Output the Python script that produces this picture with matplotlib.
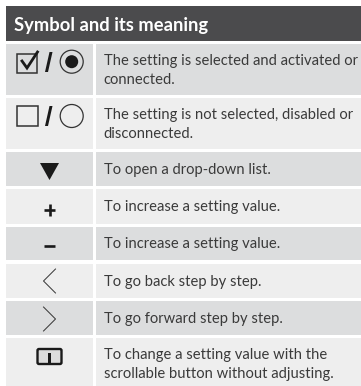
import matplotlib
matplotlib.use("Agg")
import matplotlib.pyplot as plt
from matplotlib.patches import Rectangle, Circle, Polygon, FancyBboxPatch

header = "Symbol and its meaning"
meanings = [
    "The setting is selected and activated or\nconnected.",
    "The setting is not selected, disabled or\ndisconnected.",
    "To open a drop-down list.",
    "To increase a setting value.",
    "To increase a setting value.",
    "To go back step by step.",
    "To go forward step by step.",
    "To change a setting value with the\nscrollable button without adjusting.",
]
symbols = ["checked", "unchecked", "down", "plus", "minus", "back", "forward", "slider"]

row_tops = [44, 98, 152, 189, 227, 264, 301, 338]
row_bottoms = [95, 149, 186, 224, 260, 298, 335, 386]
shades = ["#dcddde", "#eeeeee", "#dcddde", "#eeeeee", "#dcddde", "#eeeeee", "#dcddde", "#eeeeee"]

INK = "#3a3a3a"
FONT = "Lato"

fig = plt.figure(figsize=(3.61, 3.86), dpi=100)
ax = fig.add_axes([0, 0, 1, 1])
ax.set_xlim(0, 361)
ax.set_ylim(386, 0)
ax.axis("off")

ax.add_patch(Rectangle((6, 6), 355, 35, fc="#4b4b4d", ec="none"))
ax.text(14, 25.5, header, color="white", fontsize=13.2, fontweight="bold",
        family=FONT, va="center", ha="left")


def box(x, y, w=20, h=20, lw=1.1):
    ax.add_patch(Rectangle((x, y), w, h, fc="none", ec="#333333", lw=lw))


def slash(x, y):
    ax.add_patch(Polygon([(x + 4.5, y), (x + 7.5, y), (x + 3, y + 20), (x, y + 20)],
                         fc="#1a1a1a", ec="none"))


def draw_symbol(kind, top, bottom):
    if kind == "checked":
        box(16.5, 53.5, 20, 19.5)
        ax.plot([22, 27, 37.5], [61, 68, 52], color="#1a1a1a", lw=2.0, solid_joinstyle="miter")
        slash(45, 52)
        ax.add_patch(Circle((71.7, 61.7), 11.5, fc="none", ec="#333333", lw=0.9))
        ax.add_patch(Circle((71.7, 61.7), 6.5, fc="#1a1a1a", ec="none"))
    elif kind == "unchecked":
        box(16.5, 105.5, 21, 20.5)
        slash(45, 106)
        ax.add_patch(Circle((71.7, 116), 11.5, fc="none", ec="#333333", lw=0.9))
    elif kind == "down":
        ax.add_patch(Polygon([(40, 163), (59, 163), (49.5, 180)], fc="#1a1a1a", ec="none"))
    elif kind == "plus":
        ax.plot([44, 55], [209.5, 209.5], color="#1a1a1a", lw=1.9, solid_capstyle="butt")
        ax.plot([49.5, 49.5], [203.5, 215.5], color="#1a1a1a", lw=1.9, solid_capstyle="butt")
    elif kind == "minus":
        ax.plot([44, 55], [245.7, 245.7], color="#1a1a1a", lw=1.9, solid_capstyle="butt")
    elif kind == "back":
        ax.plot([55.5, 43.5, 55.5], [269, 281, 293], color="#333333", lw=0.7)
    elif kind == "forward":
        ax.plot([43.5, 55.5, 43.5], [307, 319, 331], color="#333333", lw=0.7)
    elif kind == "slider":
        ax.add_patch(FancyBboxPatch((37.5, 349), 24, 15, boxstyle="round,pad=0,rounding_size=1.5",
                                    fc="#dcdcdc", ec="#1a1a1a", lw=1.7))
        ax.add_patch(Rectangle((48.3, 353), 2.6, 9.5, fc="#1a1a1a", ec="none"))


for text, kind, top, bottom, shade in zip(meanings, symbols, row_tops, row_bottoms, shades):
    ax.add_patch(Rectangle((6, top), 87, bottom - top, fc=shade, ec="none"))
    ax.add_patch(Rectangle((96, top), 265, bottom - top, fc=shade, ec="none"))
    draw_symbol(kind, top, bottom)
    if "\n" in text:
        y = top + 10
        va = "top"
    else:
        y = (top + bottom) / 2 + 0.7
        va = "center"
    ax.text(103.5, y, text, color=INK, fontsize=10.6, family=FONT, va=va, ha="left",
            linespacing=1.44)

fig.savefig("out.png", dpi=100)
